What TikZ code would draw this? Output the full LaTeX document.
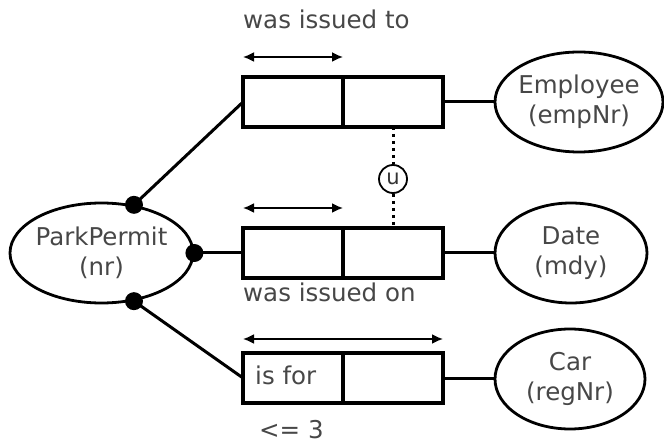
\documentclass[tikz,border=0pt]{standalone}
\usepackage{fontspec}
\setmainfont{DejaVu Sans}
\usetikzlibrary{arrows.meta,shapes.geometric}
\begin{document}
\begin{tikzpicture}[x=1pt,y=-1pt,
  font=\fontsize{24.5}{30}\selectfont,
  ent/.style={draw, ellipse, line width=2.8pt, align=center, inner sep=-40pt, minimum height=100pt, text=black!72},
  cell/.style={draw, rectangle, line width=3.2pt, minimum width=100pt, minimum height=50pt, inner sep=0pt, outer sep=0pt},
  conn/.style={line width=3pt},
  span/.style={{Latex[length=11pt,width=10pt]}-{Latex[length=11pt,width=10pt]}, line width=1.8pt},
  dotty/.style={line width=3pt, dash pattern=on 3pt off 4pt},
  lbl/.style={text=black!72, inner sep=0pt},
  dot/.style={fill=black}
]
\useasboundingbox (0,0) rectangle (664,446);

% entities
\node[ent, minimum width=183pt] (pp) at (101.5,253) {ParkPermit\\(nr)};
\node[ent, minimum width=168pt] (emp) at (579,102) {Employee\\(empNr)};
\node[ent, minimum width=152pt] (date) at (571,253) {Date\\(mdy)};
\node[ent, minimum width=150pt] (car) at (570,379) {Car\\(regNr)};

% fact type boxes
\node[cell] (a1) at (293,102) {};
\node[cell] (a2) at (393,102) {};
\node[cell] (b1) at (293,253) {};
\node[cell] (b2) at (393,253) {};
\node[cell] (c1) at (293,378) {};
\node[cell] (c2) at (393,378) {};

% labels
\node[lbl, anchor=base west] (t1) at (243,29) {was issued to};
\node[lbl, anchor=base west] (t2) at (243,302) {was issued on};
\node[lbl, anchor=base west] (t3) at (255,384) {is for};
\node[lbl, anchor=base west] (t4) at (259,438) {<= 3};

% uniqueness arrows
\coordinate (s1a) at (243,57); \coordinate (s1b) at (343,57);
\coordinate (s2a) at (243,208); \coordinate (s2b) at (343,208);
\coordinate (s3a) at (243,339); \coordinate (s3b) at (443,339);
\draw[span] (s1a) -- (s1b);
\draw[span] (s2a) -- (s2b);
\draw[span] (s3a) -- (s3b);

% external uniqueness constraint
\node[draw, circle, line width=1.8pt, minimum size=28pt, inner sep=0pt, text=black!80, font=\fontsize{21}{21}\selectfont] (u) at (393,179) {u};
\draw[dotty] (a2.south) -- (u.north);
\draw[dotty] (u.south) -- (b2.north);

% connectors
\draw[conn] (pp.56) -- (a1.west);
\draw[conn] (pp.east) -- (b1.west);
\draw[conn] (pp.-56) -- (c1.west);
\draw[conn] (a2.east) -- (emp.west);
\draw[conn] (b2.east) -- (date.west);
\draw[conn] (c2.east) -- (c2.east -| car.west);

\fill[dot] (pp.56) circle (9pt);
\fill[dot] (pp.east) circle (9pt);
\fill[dot] (pp.-56) circle (9pt);
\end{tikzpicture}
\end{document}
